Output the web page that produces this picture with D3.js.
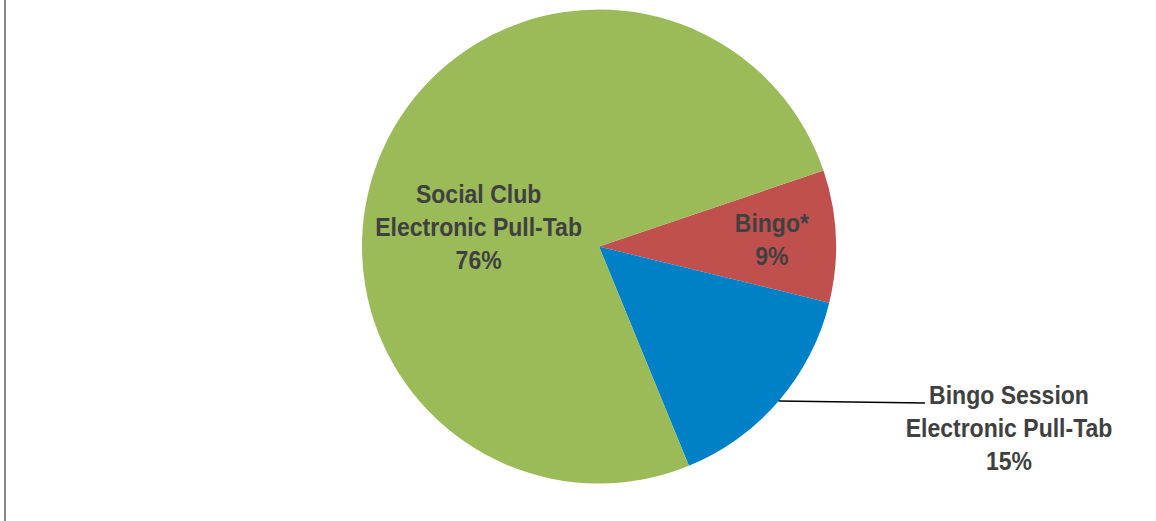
<!DOCTYPE html>
<html>
<head>
<meta charset="utf-8">
<script src="https://cdn.jsdelivr.net/npm/d3@7"></script>
<style>
  html, body { margin: 0; padding: 0; background: #ffffff; }
  svg { display: block; }
  .lbl { font-family: "Liberation Sans Narrow", "Arial Narrow", "Liberation Sans", Arial, sans-serif;
         font-weight: bold; font-size: 26px; fill: #404040; }
</style>
</head>
<body>
<svg id="chart" width="1156" height="521"></svg>
<script>
// Share of electronic pull-tab / bingo activity
const categories = ["Bingo*", "Bingo Session Electronic Pull-Tab", "Social Club Electronic Pull-Tab"];
const labelLines = [["Bingo*"], ["Bingo Session", "Electronic Pull-Tab"], ["Social Club", "Electronic Pull-Tab"]];
const shares = [9, 15, 76];
const colors = ["#c0504d", "#0080c6", "#9bbb59"];

const width = 1156, height = 521;
const cx = 599, cy = 246.5, radius = 237;
const firstSliceAngle = 71.3; // degrees, clockwise from 12 o'clock
const narrow = 0.885;         // horizontal squeeze to get a narrow bold face

const svg = d3.select("#chart");

// left frame edge
svg.append("line")
  .attr("x1", 5).attr("x2", 5).attr("y1", 0).attr("y2", height)
  .attr("stroke", "#898989").attr("stroke-width", 2);

const data = categories.map((c, i) => ({ name: c, lines: labelLines[i], value: shares[i], color: colors[i] }));

const start = firstSliceAngle * Math.PI / 180;
const pie = d3.pie().sort(null).value(d => d.value)
  .startAngle(start).endAngle(start + 2 * Math.PI);
const arcs = pie(data);

const arc = d3.arc().innerRadius(0).outerRadius(radius);

const g = svg.append("g").attr("transform", `translate(${cx},${cy})`);

g.selectAll("path.slice")
  .data(arcs)
  .join("path")
  .attr("class", "slice")
  .attr("d", arc)
  .attr("fill", d => d.data.color);

// label placement: radius factor along the slice's mid-angle plus a nudge
const labelLayout = [
  { r: 0.73, dx: 0, dy: 0, outside: false },
  { r: 0, dx: 410, dy: 181.5, outside: true },
  { r: 0.6, dx: 9, dy: 39, outside: false }
];

const lineHeight = 33;
const capMid = 9.5; // half the cap height, to centre a line on its anchor

arcs.forEach((a, i) => {
  const L = labelLayout[i];
  const mid = (a.startAngle + a.endAngle) / 2;
  let x, y;
  if (L.outside) {
    x = L.dx; y = L.dy;
  } else {
    x = Math.sin(mid) * radius * L.r + L.dx;
    y = -Math.cos(mid) * radius * L.r + L.dy;
  }
  const lines = a.data.lines.concat([Math.round(a.data.value) + "%"]);
  const n = lines.length;
  const firstBaseline = y - (n - 1) * lineHeight / 2 + capMid;

  const t = g.append("text").attr("class", "lbl").attr("text-anchor", "middle")
    .attr("transform", `translate(${x},0) scale(${narrow},1)`);
  lines.forEach((s, k) => {
    t.append("tspan").attr("x", 0).attr("y", firstBaseline + k * lineHeight).text(s);
  });

  if (L.outside) {
    const p0 = [Math.sin(mid) * radius, -Math.cos(mid) * radius];
    g.append("line")
      .attr("x1", p0[0]).attr("y1", p0[1])
      .attr("x2", x - 84).attr("y2", firstBaseline - 1.5)
      .attr("stroke", "#000").attr("stroke-width", 1.5);
  }
});
</script>
</body>
</html>
